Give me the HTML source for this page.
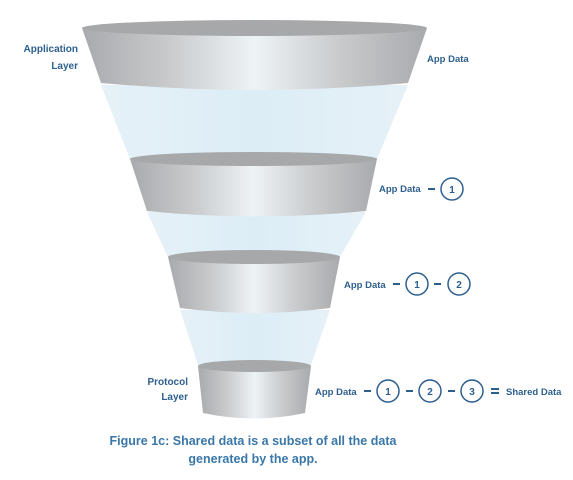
<!DOCTYPE html>
<html><head><meta charset="utf-8"><style>
body{margin:0;background:#fff;}
svg{display:block;}
text{font-family:"Liberation Sans",sans-serif;fill:#2d5f8e;}
</style></head><body>
<svg width="573" height="480" viewBox="0 0 573 480">
<defs>
<linearGradient id="g" x1="0" x2="1" y1="0" y2="0">
<stop offset="0" stop-color="#a9aaad"/><stop offset="0.25" stop-color="#c8cacc"/>
<stop offset="0.5" stop-color="#eef3f6"/><stop offset="0.75" stop-color="#c8cacc"/>
<stop offset="1" stop-color="#a9aaad"/></linearGradient>
<linearGradient id="b" x1="0" x2="1"><stop offset="0" stop-color="#e6f1f7"/><stop offset="0.5" stop-color="#dcedf6"/><stop offset="1" stop-color="#e6f1f7"/></linearGradient>
</defs>
<path d="M101 85 L130 159 L377 159 L408 85 Z" fill="url(#b)"/>
<path d="M147 212 L168 257 L340 257 L366 212 Z" fill="url(#b)"/>
<path d="M180 310 L198 365 L311 365 L330 310 Z" fill="url(#b)"/>
<path d="M82 28 L101 83 Q255 97 408 83 L427 28 Z" fill="url(#g)"/>
<ellipse cx="254.5" cy="28" rx="172.5" ry="8" fill="#a7a8aa"/>
<path d="M130 159 L147 211 Q256 222 366 211 L377 159 Z" fill="url(#g)"/>
<ellipse cx="253.5" cy="159" rx="123.5" ry="7" fill="#a7a8aa"/>
<path d="M168 257 L180 308 Q255 318 330 308 L340 257 Z" fill="url(#g)"/>
<ellipse cx="254" cy="257" rx="86" ry="7" fill="#a7a8aa"/>
<path d="M198 366 L203 413 Q254 424 305 413 L311 366 Z" fill="url(#g)"/>
<ellipse cx="254.5" cy="366" rx="56.5" ry="6" fill="#a7a8aa"/>
<g font-weight="bold" style="font-size:10px">
<text x="78" y="52" text-anchor="end">Application</text>
<text x="78" y="69" text-anchor="end">Layer</text>
<text x="188" y="385" text-anchor="end">Protocol</text>
<text x="188" y="400" text-anchor="end">Layer</text>
<text x="427" y="62" style="font-size:9.5px">App Data</text>
<text x="379" y="192" style="font-size:9.5px">App Data</text>
<text x="344" y="288" style="font-size:9.5px">App Data</text>
<text x="315" y="395" style="font-size:9.5px">App Data</text>
<text x="506" y="395" style="font-size:9.5px">Shared Data</text>
</g>
<g stroke="#2d5f8e" stroke-width="1.5" fill="none">
<circle cx="452" cy="189" r="11"/>
<circle cx="417" cy="284" r="11"/><circle cx="459" cy="284" r="11"/>
<circle cx="388" cy="391" r="11"/><circle cx="430" cy="391" r="11"/><circle cx="472" cy="391" r="11"/>
</g>
<g stroke="#2d5f8e" stroke-width="2">
<line x1="428" y1="189" x2="435" y2="189"/>
<line x1="393" y1="284" x2="400" y2="284"/><line x1="434" y1="284" x2="441" y2="284"/>
<line x1="364" y1="391" x2="371" y2="391"/><line x1="406" y1="391" x2="413" y2="391"/><line x1="448" y1="391" x2="455" y2="391"/>
<line x1="491" y1="389" x2="499" y2="389"/><line x1="491" y1="393" x2="499" y2="393"/>
</g>
<g text-anchor="middle" font-weight="bold" style="font-size:10px">
<text x="452" y="193">1</text>
<text x="417" y="288">1</text><text x="459" y="288">2</text>
<text x="388" y="395">1</text><text x="430" y="395">2</text><text x="472" y="395">3</text>
</g>
<g font-weight="bold" text-anchor="middle">
<text x="253" y="445" style="font-size:12.5px;fill:#3a77a8">Figure 1c: Shared data is a subset of all the data</text>
<text x="253" y="463" style="font-size:12.5px;fill:#3a77a8">generated by the app.</text>
</g>
</svg>
</body></html>
